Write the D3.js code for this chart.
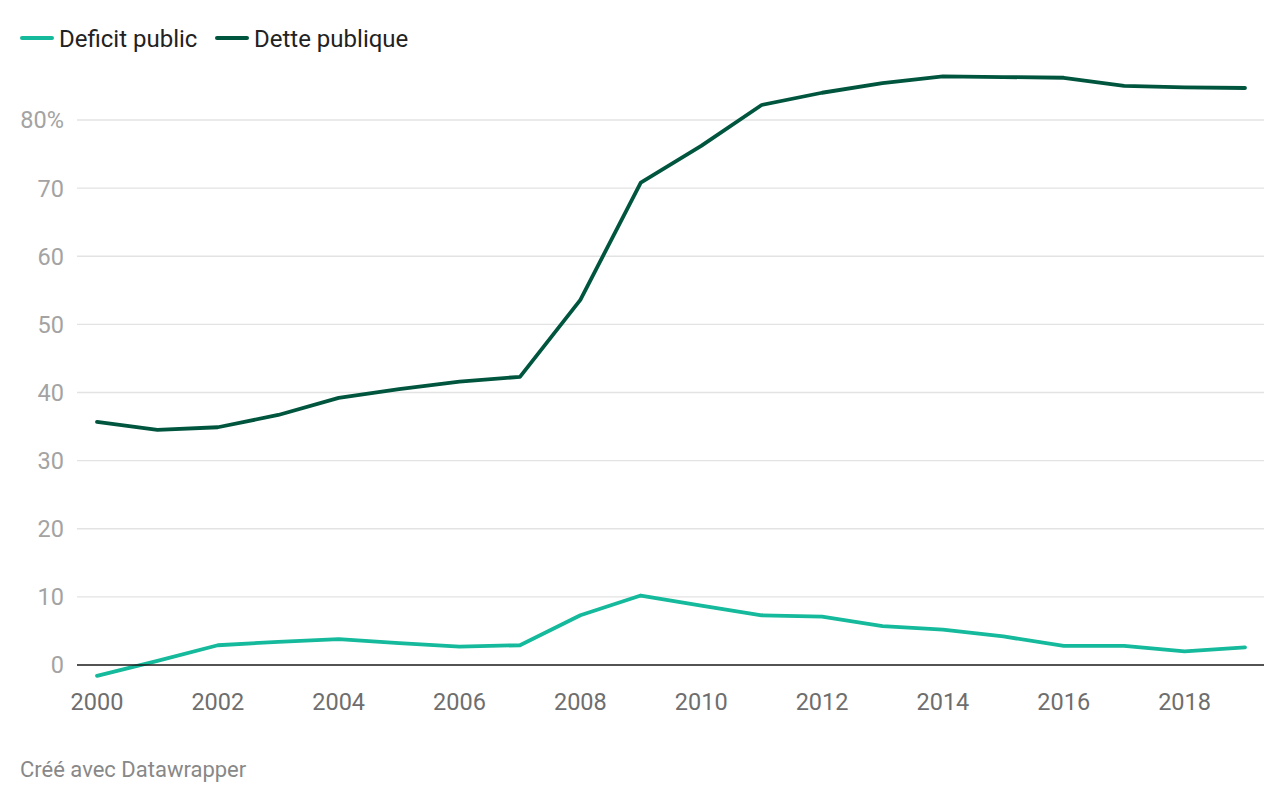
<!DOCTYPE html>
<html>
<head>
<meta charset="utf-8">
<script src="https://cdn.jsdelivr.net/npm/d3@7"></script>
<style>
  body { margin: 0; background: #fff; font-family: Roboto, sans-serif; }
  svg text { font-family: Roboto, sans-serif; }
</style>
</head>
<body>
<div id="chart"></div>
<script>
// data
let years = d3.range(2000, 2020);
let deficit = [-1.6, 0.6, 2.9, 3.4, 3.8, 3.2, 2.7, 2.9, 7.3, 10.2, 8.7, 7.3, 7.1, 5.7, 5.2, 4.2, 2.8, 2.8, 2.0, 2.6];
let dette = [35.7, 34.5, 34.9, 36.7, 39.2, 40.5, 41.6, 42.3, 53.6, 70.8, 76.2, 82.2, 84.0, 85.4, 86.4, 86.3, 86.2, 85.0, 84.8, 84.7];
let yTicks = [0, 10, 20, 30, 40, 50, 60, 70, 80];
let xTicks = [2000, 2002, 2004, 2006, 2008, 2010, 2012, 2014, 2016, 2018];

let series = [
  { name: "Deficit public", values: deficit, color: "#15b99b" },
  { name: "Dette publique", values: dette, color: "#00553e" }
];

let svgWidth = 1284;
let svgHeight = 802;

let svg = d3.select("#chart")
  .append("svg")
  .attr("width", svgWidth)
  .attr("height", svgHeight);

// scales
let x = d3.scaleLinear().domain([2000, 2019]).range([97, 1245]);
let y = d3.scaleLinear().domain([0, 80]).range([665, 120]);

let gridLeft = 77;
let gridRight = 1264;

// gridlines + y labels
let yg = svg.append("g");
yg.selectAll("line")
  .data(yTicks.filter(d => d !== 0))
  .enter()
  .append("line")
  .attr("x1", gridLeft)
  .attr("x2", gridRight)
  .attr("y1", d => y(d))
  .attr("y2", d => y(d))
  .attr("stroke", "#e3e3e3")
  .attr("stroke-width", 1.3);

yg.selectAll("text")
  .data(yTicks)
  .enter()
  .append("text")
  .attr("x", 64)
  .attr("y", d => y(d))
  .attr("dy", "0.36em")
  .attr("text-anchor", "end")
  .attr("font-size", 23.5)
  .attr("fill", "#a3a3a3")
  .text(d => d === 80 ? "80%" : d);

// x axis labels
svg.append("g").selectAll("text")
  .data(xTicks)
  .enter()
  .append("text")
  .attr("x", d => x(d))
  .attr("y", 710)
  .attr("text-anchor", "middle")
  .attr("font-size", 23.5)
  .attr("fill", "#6e6e6e")
  .text(d => d);

// lines
let line = d3.line()
  .x((d, i) => x(years[i]))
  .y(d => y(d));

svg.append("g").selectAll("path")
  .data(series)
  .enter()
  .append("path")
  .attr("d", d => line(d.values))
  .attr("fill", "none")
  .attr("stroke", d => d.color)
  .attr("stroke-width", 3.8)
  .attr("stroke-linejoin", "round")
  .attr("stroke-linecap", "round");

// zero baseline
svg.append("line")
  .attr("x1", gridLeft)
  .attr("x2", gridRight)
  .attr("y1", y(0))
  .attr("y2", y(0))
  .attr("stroke", "#1a1a1a")
  .attr("stroke-width", 1.6);

// legend
let legendX = [20, 215];
let legend = svg.append("g").selectAll("g")
  .data(series)
  .enter()
  .append("g")
  .attr("transform", (d, i) => `translate(${legendX[i]}, 38)`);

legend.append("line")
  .attr("x1", 2)
  .attr("x2", 32)
  .attr("stroke", d => d.color)
  .attr("stroke-width", 4)
  .attr("stroke-linecap", "round");

legend.append("text")
  .attr("x", 39)
  .attr("dy", "0.36em")
  .attr("font-size", 24)
  .attr("fill", "#222")
  .text(d => d.name);

// footer
svg.append("text")
  .attr("x", 20)
  .attr("y", 777)
  .attr("font-size", 22)
  .attr("fill", "#888")
  .text("Créé avec Datawrapper");
</script>
</body>
</html>
